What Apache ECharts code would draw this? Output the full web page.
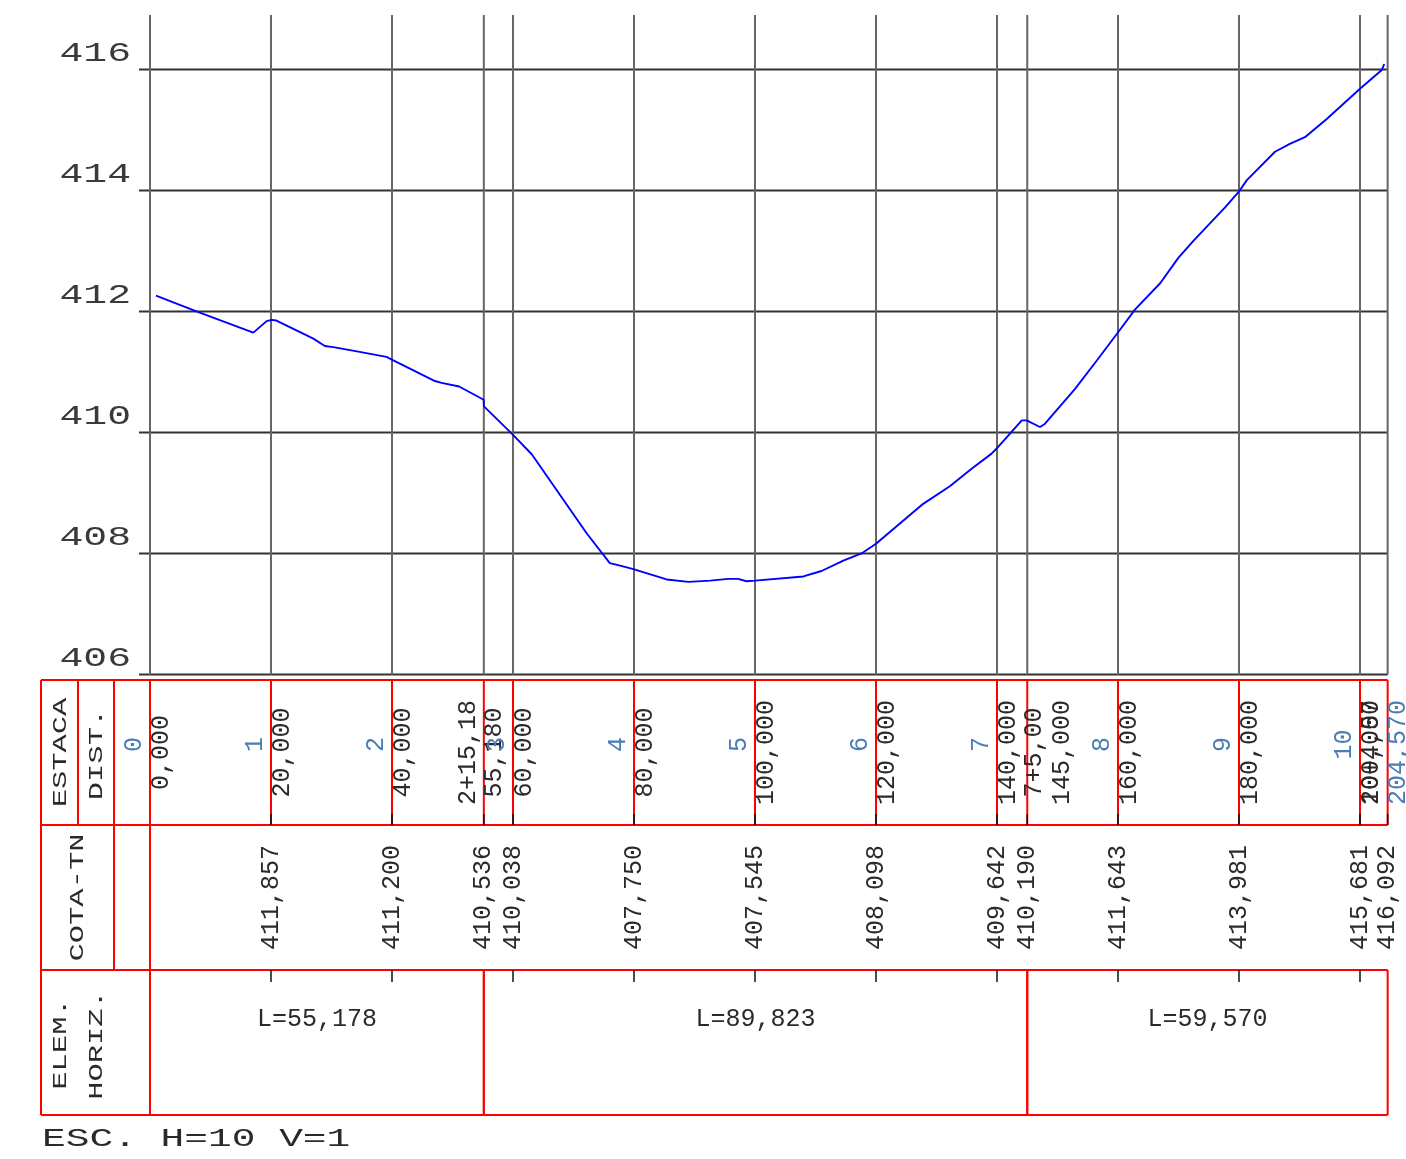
<!DOCTYPE html>
<html><head><meta charset="utf-8">
<script src="https://cdn.jsdelivr.net/npm/echarts@6/dist/echarts.min.js"></script>
<style>html,body{margin:0;padding:0;background:#fff}#c{width:1406px;height:1159px}</style>
</head><body><div id="c"></div>
<script>
// ---------- data ----------
const profileDist = [0.99, 8.0, 17.08, 19.28, 20.1, 20.9, 27.0, 28.9, 30.3, 34.2, 39.1, 40.05, 47.1, 48.2, 51.1, 55.15, 55.2, 59.8, 63.1, 72.2, 76.0, 77.7, 79.9, 85.4, 89.0, 92.6, 95.6, 97.2, 98.6, 100.0, 108.0, 111.0, 114.6, 117.6, 120.0, 127.8, 132.2, 135.8, 139.1, 139.9, 144.1, 144.9, 147.1, 147.9, 152.9, 156.5, 160.05, 162.8, 167.0, 170.0, 172.5, 177.7, 180.05, 181.3, 185.95, 188.4, 190.9, 194.5, 200.0, 203.6, 204.0];
const profileElev = [412.26, 411.99, 411.65, 411.84, 411.86, 411.85, 411.55, 411.43, 411.41, 411.34, 411.25, 411.20, 410.85, 410.82, 410.76, 410.54, 410.43, 409.98, 409.64, 408.33, 407.84, 407.80, 407.74, 407.57, 407.53, 407.55, 407.58, 407.58, 407.54, 407.55, 407.62, 407.71, 407.88, 408.00, 408.16, 408.82, 409.11, 409.40, 409.65, 409.73, 410.20, 410.20, 410.09, 410.14, 410.72, 411.19, 411.66, 412.03, 412.47, 412.89, 413.17, 413.72, 413.99, 414.17, 414.64, 414.77, 414.88, 415.18, 415.68, 415.99, 416.09];
const elevTicks = [406, 408, 410, 412, 414, 416];
const stationDist = [0, 20, 40, 55.178, 60, 80, 100, 120, 140, 145, 160, 180, 200, 204.57];
const distLabels = ['0,000', '20,000', '40,000', '55,180', '60,000', '80,000', '100,000', '120,000', '140,000', '145,000', '160,000', '180,000', '200,000', '204,570'];
const cotaLabels = ['', '411,857', '411,200', '410,536', '410,038', '407,750', '407,545', '408,098', '409,642', '410,190', '411,643', '413,981', '415,681', '416,092'];
const estacaDist = [0, 20, 40, 60, 80, 100, 120, 140, 160, 180, 200];
const estacaLabels = ['0', '1', '2', '3', '4', '5', '6', '7', '8', '9', '10'];
const fracDist = [55.178, 145, 204.57];
const fracLabels = ['2+15,18', '7+5,00', '10+4,57'];
const elemFrom = [0, 55.178, 145];
const elemTo = [55.178, 145, 204.57];
const elemLabels = ['L=55,178', 'L=89,823', 'L=59,570'];
const headerLabels = ['ESTACA', 'DIST.', 'COTA-TN', 'ELEM.', 'HORIZ.'];
const scaleNote = 'ESC. H=10 V=1';

// ---------- layout / style ----------
const X_MAX = 204.57, Y_MIN = 406, Y_MAX = 416.9;
const PX_PER_M = 6.05, PX_PER_V = 60.5;
const FONT = 'Liberation Mono';
const RED = '#ff0000', BLUE_TXT = '#4a7db3', INK = '#2a2a2a';
const distOffset = {9: 35};           // label shifted to avoid overlap
const fracOffset = [-15, 7, -16];
const elemBounds = elemFrom.concat(elemTo);
const R90 = Math.PI / 2;

function ln(x1, y1, x2, y2, color, w) {
  return {type: 'line', shape: {x1: x1, y1: y1, x2: x2, y2: y2}, style: {stroke: color, lineWidth: w}};
}
function tx(x, y, text, o) {
  o = o || {};
  return {type: 'text', x: x, y: y, rotation: o.rot || 0, scaleX: o.sx || 1,
    style: {text: text, fill: o.color || INK, fontSize: o.size || 25, fontFamily: FONT,
      align: o.align || 'center', verticalAlign: 'middle',
      textAlign: o.align || 'center', textVerticalAlign: 'middle'}};
}

const chart = echarts.init(document.getElementById('c'), null, {width: 1406, height: 1159});
const plotW = X_MAX * PX_PER_M;
chart.setOption({
  animation: false,
  backgroundColor: '#ffffff',
  grid: [
    {left: 150, top: 15, width: plotW, height: (Y_MAX - Y_MIN) * PX_PER_V},
    {left: 150, top: 680, width: plotW, height: 435}
  ],
  xAxis: [
    {gridIndex: 0, type: 'value', min: 0, max: X_MAX, show: false},
    {gridIndex: 1, type: 'value', min: 0, max: X_MAX, show: false}
  ],
  yAxis: [
    {gridIndex: 0, type: 'value', min: Y_MIN, max: Y_MAX, show: false},
    {gridIndex: 1, type: 'value', min: 0, max: 3, inverse: true, show: false}
  ],
  series: [
    { // horizontal grid lines + elevation labels
      type: 'custom', xAxisIndex: 0, yAxisIndex: 0, z: 2, silent: true,
      data: elevTicks.map(v => [0, v]),
      renderItem: function (p, api) {
        const v = elevTicks[p.dataIndex];
        const a = api.coord([0, v]), b = api.coord([X_MAX, v]);
        return {type: 'group', children: [
          ln(a[0] - 11, a[1], b[0], b[1], '#333', 2),
          tx(a[0] - 19, a[1] - 16, String(v), {size: 28, sx: 1.42, align: 'right', color: '#3a3a3a'})
        ]};
      }
    },
    { // vertical grid lines at stations
      type: 'custom', xAxisIndex: 0, yAxisIndex: 0, z: 2, silent: true,
      data: stationDist.map(d => [d, Y_MIN]),
      renderItem: function (p, api) {
        const d = stationDist[p.dataIndex];
        const a = api.coord([d, Y_MAX]), b = api.coord([d, Y_MIN]);
        return ln(a[0], a[1], b[0], b[1], '#666', 2);
      }
    },
    { // terrain profile
      type: 'line', xAxisIndex: 0, yAxisIndex: 0, z: 10, silent: true,
      data: profileDist.map((d, i) => [d, profileElev[i]]),
      showSymbol: false, symbol: 'none',
      lineStyle: {color: '#0000ff', width: 1.9}
    },
    { // table frame and headers
      type: 'custom', xAxisIndex: 1, yAxisIndex: 1, z: 3, silent: true,
      data: [[0, 0]],
      renderItem: function (p, api) {
        const ch = [];
        const x0 = api.coord([0, 0])[0], xe = api.coord([X_MAX, 0])[0];
        const ry = r => api.coord([0, r])[1];
        for (let r = 0; r <= 3; r++) ch.push(ln(x0 - 109, ry(r), xe, ry(r), RED, 2));
        ch.push(ln(x0 - 109, ry(0), x0 - 109, ry(3), RED, 2));
        ch.push(ln(x0 - 72, ry(0), x0 - 72, ry(1), RED, 2));
        ch.push(ln(x0 - 36, ry(0), x0 - 36, ry(2), RED, 2));
        ch.push(ln(x0, ry(0), x0, ry(3), RED, 2));
        ch.push(tx(x0 - 90, ry(0.5), headerLabels[0], {rot: R90, size: 21, sx: 1.45}));
        ch.push(tx(x0 - 54, ry(0.5) + 2, headerLabels[1], {rot: R90, size: 21, sx: 1.45}));
        ch.push(tx(x0 - 72.5, ry(1.5), headerLabels[2], {rot: R90, size: 21, sx: 1.45}));
        ch.push(tx(x0 - 90, ry(2.5) + 1.5, headerLabels[3], {rot: R90, size: 21, sx: 1.45}));
        ch.push(tx(x0 - 54, ry(2.5) + 2.5, headerLabels[4], {rot: R90, size: 21, sx: 1.45}));
        ch.push(tx(x0 - 108, ry(3) + 24, scaleNote, {size: 26, sx: 1.52, align: 'left'}));
        return {type: 'group', children: ch};
      }
    },
    { // station columns: lines, ticks, distances, elevations
      type: 'custom', xAxisIndex: 1, yAxisIndex: 1, z: 4, silent: true,
      data: stationDist.map((d, i) => [d, i]),
      renderItem: function (p, api) {
        const i = p.dataIndex, d = stationDist[i], last = stationDist.length - 1;
        const t = api.coord([d, 0]), r1 = api.coord([d, 1]), r2 = api.coord([d, 2]);
        const m1 = api.coord([d, 0.5]), m2 = api.coord([d, 1.5]);
        const ch = [ln(t[0], t[1], r1[0], r1[1], RED, 2)];
        if (i > 0) ch.push(ln(r1[0], r1[1] - 11, r1[0], r1[1], '#111', 1.5));
        if (elemBounds.indexOf(d) < 0) ch.push(ln(r2[0], r2[1], r2[0], r2[1] + 12, '#111', 1.5));
        const off = distOffset[i] !== undefined ? distOffset[i] : 11;
        ch.push(tx(m1[0] + off, m1[1], distLabels[i], {rot: R90, color: i === last ? BLUE_TXT : INK}));
        if (cotaLabels[i]) ch.push(tx(m2[0], m2[1], cotaLabels[i], {rot: R90}));
        return {type: 'group', children: ch};
      }
    },
    { // estaca numbers
      type: 'custom', xAxisIndex: 1, yAxisIndex: 1, z: 5, silent: true,
      data: estacaDist.map((d, i) => [d, i]),
      renderItem: function (p, api) {
        const d = estacaDist[p.dataIndex];
        const m = api.coord([d, 0.5]);
        return tx(m[0] - 16, m[1] - 8, estacaLabels[p.dataIndex], {rot: R90, color: BLUE_TXT});
      }
    },
    { // fractional estacas
      type: 'custom', xAxisIndex: 1, yAxisIndex: 1, z: 5, silent: true,
      data: fracDist.map((d, i) => [d, i]),
      renderItem: function (p, api) {
        const d = fracDist[p.dataIndex];
        const m = api.coord([d, 0.5]);
        return tx(m[0] + fracOffset[p.dataIndex], m[1], fracLabels[p.dataIndex], {rot: R90});
      }
    },
    { // horizontal elements
      type: 'custom', xAxisIndex: 1, yAxisIndex: 1, z: 5, silent: true,
      data: elemFrom.map((d, i) => [d, i]),
      renderItem: function (p, api) {
        const i = p.dataIndex;
        const a = api.coord([elemFrom[i], 2]), b = api.coord([elemTo[i], 2]), e = api.coord([elemTo[i], 3]);
        const fb = api.coord([elemFrom[i], 3]);
        return {type: 'group', children: [
          ln(a[0], a[1], fb[0], fb[1], RED, 2),
          ln(b[0], b[1], e[0], e[1], RED, 2),
          tx((a[0] + b[0]) / 2, a[1] + 49, elemLabels[i], {})
        ]};
      }
    }
  ]
});
</script>
</body></html>
